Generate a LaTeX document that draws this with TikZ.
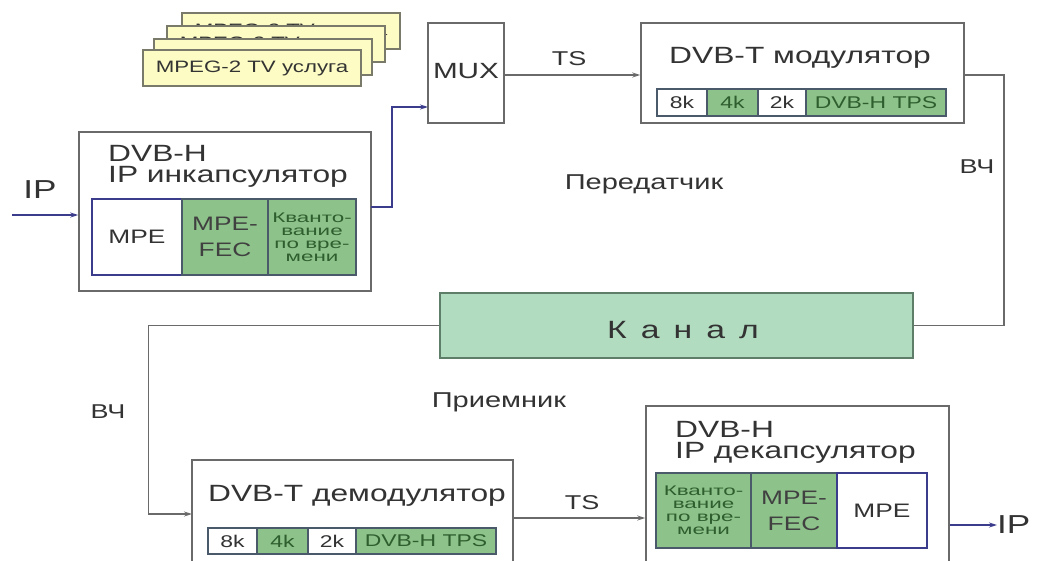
\documentclass[tikz,border=0pt]{standalone}
\usepackage{fontspec}
\setmainfont{Liberation Sans}[FakeStretch=1.35]
\newfontfamily\cellfont{Liberation Sans}[FakeStretch=1.6]
\usetikzlibrary{arrows.meta,calc}
\definecolor{boxgray}{HTML}{6A6A6A}
\definecolor{txt}{HTML}{333333}
\definecolor{cellgreen}{HTML}{8DC28A}
\definecolor{chanfill}{HTML}{B2DCC0}
\definecolor{chanedge}{HTML}{5E7E6A}
\definecolor{cardfill}{HTML}{FCFCC4}
\definecolor{cardedge}{HTML}{7A7A6A}
\definecolor{navy}{HTML}{3C3C8C}
\definecolor{dkgreen}{HTML}{2E5E2E}
\definecolor{celledge}{HTML}{4A5A6A}
\begin{document}
\begin{tikzpicture}[x=1pt,y=-1pt,
  box/.style={draw=boxgray, line width=1.5pt, fill=white, inner sep=0pt},
  card/.style={draw=cardedge, line width=1.3pt, fill=cardfill, inner sep=0pt,
     minimum width=218pt, minimum height=36pt, text=txt, font=\fontsize{16.5}{17}\selectfont},
  cellw/.style={draw=celledge, line width=1.3pt, fill=white, inner sep=0pt, align=center, text=txt},
  cellg/.style={draw=celledge, line width=1.3pt, fill=cellgreen, inner sep=0pt, align=center, text=dkgreen},
  title/.style={text=txt, inner sep=0pt, font=\fontsize{23.5}{21}\selectfont},
  lbl/.style={text=txt, inner sep=0pt, font=\fontsize{20}{20}\selectfont},
  conn/.style={draw=boxgray, line width=1.2pt},
  conb/.style={draw=navy, line width=1.2pt},
  arr/.style={-{Stealth[length=8pt,width=5pt]}},
  small/.style={font=\cellfont\fontsize{14}{13}\selectfont},
  mid/.style={font=\fontsize{19.5}{26}\selectfont},
  tiny/.style={font=\fontsize{17}{17}\selectfont}
]
\useasboundingbox (0,0) rectangle (1038,560);

% cards
\node[card] (card1) at (291,31) {MPEG-2 TV услуга};
\node[card] (card2) at (276,44) {MPEG-2 TV услуга};
\node[card] (card3) at (263,57) {MPEG-2 TV услуга};
\node[card] (card4) at (252,68) {MPEG-2 TV услуга};

% MUX
\node[box, minimum width=76pt, minimum height=100pt] (mux) at (466,73) {};
\node[title, font=\fontsize{22}{22}\selectfont] (muxt) at (466,71) {MUX};

% modulator
\node[box, minimum width=323pt, minimum height=100pt] (mod) at (802.5,73) {};
\node[title] (modt) at (800,58) {DVB-T модулятор};
\node[cellw, tiny, minimum width=50pt, minimum height=27pt] (m8) at (682,102.5) {8k};
\node[cellg, tiny, minimum width=51pt, minimum height=27pt] (m4) at (732.5,102.5) {4k};
\node[cellw, tiny, minimum width=48pt, minimum height=27pt] (m2) at (782,102.5) {2k};
\node[cellg, tiny, minimum width=140pt, minimum height=27pt] (mt) at (876,102.5) {DVB-H TPS};

% encapsulator
\node[box, minimum width=292pt, minimum height=159pt] (enc) at (225,211.5) {};
\node[title, anchor=west, align=left] (enct) at (108,166) {DVB-H\\IP инкапсулятор};
\node[cellw, mid, minimum width=90pt, minimum height=76pt, draw=navy] (e1) at (137,237) {MPE};
\node[cellg, mid, minimum width=86pt, minimum height=76pt, text=black!75] (e2) at (225,237) {MPE-\\FEC};
\node[cellg, small, minimum width=88pt, minimum height=76pt] (e3) at (312,237) {Кванто-\\вание\\по вре-\\мени};

% channel
\node[draw=chanedge, line width=1.5pt, fill=chanfill, inner sep=0pt,
      minimum width=473pt, minimum height=65pt] (chan) at (676.5,325.5) {};
\node[text=black!80, inner sep=0pt, font=\fontsize{25}{25}\selectfont] (chant) at (683,330)
  {К\hspace{14pt}а\hspace{14pt}н\hspace{14pt}а\hspace{14pt}л};

% demodulator
\node[box, minimum width=321pt, minimum height=110pt] (demod) at (352.5,515) {};
\node[title] (demodt) at (357,496) {DVB-T демодулятор};
\node[cellw, tiny, minimum width=49pt, minimum height=26pt] (d8) at (232.5,541) {8k};
\node[cellg, tiny, minimum width=51pt, minimum height=26pt] (d4) at (282.5,541) {4k};
\node[cellw, tiny, minimum width=48pt, minimum height=26pt] (d2) at (332,541) {2k};
\node[cellg, tiny, minimum width=140pt, minimum height=26pt] (dt) at (426,541) {DVB-H TPS};

% decapsulator
\node[box, minimum width=303pt, minimum height=164pt] (dec) at (797.5,488) {};
\node[title, anchor=west, align=left] (dect) at (675,442) {DVB-H\\IP декапсулятор};
\node[cellg, small, minimum width=95pt, minimum height=75pt] (c1) at (703.5,510.5) {Кванто-\\вание\\по вре-\\мени};
\node[cellg, mid, minimum width=86pt, minimum height=75pt, text=black!75] (c2) at (794,510.5) {MPE-\\FEC};
\node[cellw, mid, minimum width=90pt, minimum height=75pt, draw=navy] (c3) at (882,510.5) {MPE};

% labels
\node[lbl, font=\fontsize{26}{26}\selectfont] (ipin) at (40,190) {IP};
\node[lbl, font=\fontsize{26}{26}\selectfont, anchor=west] (ipout) at (997,525) {IP};
\node[lbl] (ts1) at (569,59) {TS};
\node[lbl] (ts2) at (582,503) {TS};
\node[lbl] (vch1) at (977,167) {ВЧ};
\node[lbl] (vch2) at (108,412) {ВЧ};
\node[lbl, font=\fontsize{21.5}{21}\selectfont] (tx) at (644,184) {Передатчик};
\node[lbl, font=\fontsize{21.5}{21}\selectfont] (rx) at (499,402) {Приемник};

% connectors
\coordinate (ipsrc) at (12,215);
\coordinate (encout) at (371,207);
\coordinate (muxin) at (428,107);
\coordinate (tsA) at (504,75);
\coordinate (modout) at (964,75);
\coordinate (demin) at (192,514);
\coordinate (tsB) at (513,518);
\draw[conb, arr] (ipsrc) -- (ipsrc -| enc.west);
\draw[conb, arr] (encout) -- ++(21,0) |- (muxin);
\draw[conn, arr] (tsA) -- (tsA -| mod.west);
\draw[conn] (modout) -- ++(40,0) |- (chan.east);
\draw[conn, arr] (chan.west) -- ++(-291,0) |- (demin);
\draw[conn, arr] (tsB) -- (tsB -| dec.west);
\draw[conb, arr] (ipout.west -| dec.east) -- (ipout.west);
\end{tikzpicture}
\end{document}
